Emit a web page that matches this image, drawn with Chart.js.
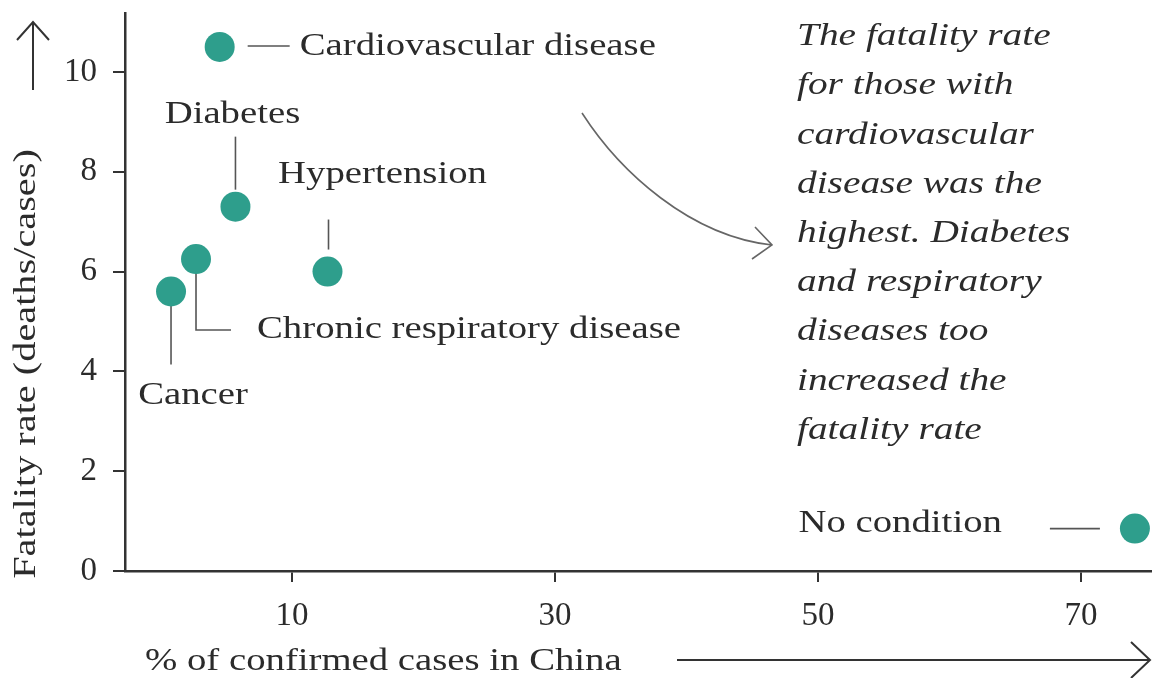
<!DOCTYPE html>
<html>
<head>
<meta charset="utf-8">
<script src="https://cdn.jsdelivr.net/npm/chart.js@4"></script>
<style>
  html, body { margin: 0; padding: 0; background: #fff; }
  #wrap { width: 1152px; height: 678px; }
</style>
</head>
<body>
<div id="wrap"><canvas id="chart" width="1152" height="678"></canvas></div>
<script>
// data
const conditions = ["Cardiovascular disease", "Diabetes", "Hypertension", "Chronic respiratory disease", "Cancer", "No condition"];
const pctCases = [4.5, 5.7, 12.7, 2.7, 0.8, 74.1];
const fatalityRate = [10.5, 7.3, 6.0, 6.25, 5.6, 0.85];
const xTicks = [10, 30, 50, 70];
const yTicks = [0, 2, 4, 6, 8, 10];
const xTitle = "% of confirmed cases in China";
const yTitle = "Fatality rate (deaths/cases)";
const noteLines = ["The fatality rate", "for those with", "cardiovascular", "disease was the", "highest. Diabetes", "and respiratory", "diseases too", "increased the", "fatality rate"];

const FONT = "'Liberation Serif', 'DejaVu Serif', serif";
const INK = "#2b2b2b";
const LEAD = "#555";
const TEAL = "#2e9e8c";
const STRETCH = 1.25; // the original type is wider than Liberation Serif

// label placement for each point, relative to the point centre
const labelSpec = [
  { lead: [[28, -1], [70, -1]], text: [80, 0], align: "left" },
  { lead: [[0, -70], [0, -17]], text: [-3, -92], align: "center" },
  { lead: [[1, -52], [1, -22]], text: [55, -97], align: "center" },
  { lead: [[0, 0], [0, 71], [35, 71]], text: [61, 71], align: "left" },
  { lead: [[0, 0], [0, 73]], text: [22, 104], align: "center" },
  { lead: [[-85, 0], [-35, 0]], text: [-133, -5], align: "right" }
];

function wideText(ctx, str, x, y, align, sx) {
  ctx.save();
  ctx.translate(x, y);
  ctx.scale(sx, 1);
  ctx.textAlign = align;
  ctx.fillText(str, 0, 0);
  ctx.restore();
}

const annotations = {
  id: "annotations",
  beforeDatasetsDraw(chart) {
    const ctx = chart.ctx;
    const pts = chart.getDatasetMeta(0).data;
    ctx.save();
    ctx.strokeStyle = LEAD;
    ctx.lineWidth = 1.6;
    labelSpec.forEach((s, i) => {
      const p = pts[i];
      ctx.beginPath();
      s.lead.forEach(([dx, dy], k) => {
        if (k === 0) ctx.moveTo(p.x + dx, p.y + dy);
        else ctx.lineTo(p.x + dx, p.y + dy);
      });
      ctx.stroke();
    });
    ctx.restore();
  },
  afterDraw(chart) {
    const ctx = chart.ctx;
    const pts = chart.getDatasetMeta(0).data;
    ctx.save();
    ctx.fillStyle = INK;
    ctx.font = "31px " + FONT;
    ctx.textBaseline = "middle";
    labelSpec.forEach((s, i) => {
      const p = pts[i];
      wideText(ctx, conditions[i], p.x + s.text[0], p.y + s.text[1], s.align, STRETCH);
    });

    // axis titles
    wideText(ctx, xTitle, 145, 662, "left", STRETCH);
    ctx.save();
    ctx.translate(27, 364);
    ctx.rotate(-Math.PI / 2);
    wideText(ctx, yTitle, 0, 0, "center", 1.3);
    ctx.restore();

    // note
    ctx.font = "italic 31px " + FONT;
    noteLines.forEach((line, i) => wideText(ctx, line, 797, 37 + i * 49.2, "left", 1.27));

    // arrows
    ctx.strokeStyle = "#333";
    ctx.lineWidth = 2;
    ctx.beginPath();
    ctx.moveTo(33, 90); ctx.lineTo(33, 22);
    ctx.moveTo(17, 40); ctx.lineTo(33, 22); ctx.lineTo(49, 40);
    ctx.moveTo(677, 660); ctx.lineTo(1150, 660);
    ctx.moveTo(1131, 642); ctx.lineTo(1150, 660); ctx.lineTo(1131, 678);
    ctx.stroke();

    ctx.strokeStyle = "#666";
    ctx.lineWidth = 1.6;
    ctx.beginPath();
    ctx.moveTo(582, 113);
    ctx.bezierCurveTo(620, 172, 690, 236, 772, 245);
    ctx.moveTo(755, 227); ctx.lineTo(772, 245); ctx.lineTo(752, 259);
    ctx.stroke();
    ctx.restore();
  }
};

new Chart(document.getElementById("chart"), {
  type: "scatter",
  data: {
    datasets: [{
      data: pctCases.map((x, i) => ({ x: x, y: fatalityRate[i] })),
      backgroundColor: TEAL,
      borderWidth: 0,
      pointRadius: 15,
      pointHoverRadius: 15,
      clip: false
    }]
  },
  options: {
    responsive: false,
    animation: false,
    layout: { autoPadding: false, padding: { top: 13, right: 0, left: 0, bottom: 0 } },
    plugins: { legend: { display: false }, tooltip: { enabled: false } },
    scales: {
      x: {
        type: "linear",
        min: -2.7,
        max: 75.4,
        afterBuildTicks: (axis) => { axis.ticks = xTicks.map(v => ({ value: v })); },
        afterFit: (axis) => { axis.height = 107; axis.paddingLeft = 0; axis.paddingRight = 0; },
        grid: { drawOnChartArea: false, drawTicks: true, tickLength: 11, color: "#333", lineWidth: 2 },
        border: { display: true, color: "#333", width: 2.5 },
        ticks: { color: INK, font: { family: FONT, size: 33 }, padding: 15, maxRotation: 0 }
      },
      y: {
        type: "linear",
        min: 0,
        max: 11.18,
        afterBuildTicks: (axis) => { axis.ticks = yTicks.map(v => ({ value: v })); },
        afterFit: (axis) => { axis.width = 125; axis.paddingTop = 0; axis.paddingBottom = 0; },
        grid: { drawOnChartArea: false, drawTicks: true, tickLength: 12, color: "#333", lineWidth: 2 },
        border: { display: true, color: "#333", width: 2.5 },
        ticks: { color: INK, font: { family: FONT, size: 33 }, padding: 16 }
      }
    }
  },
  plugins: [annotations]
});
</script>
</body>
</html>
